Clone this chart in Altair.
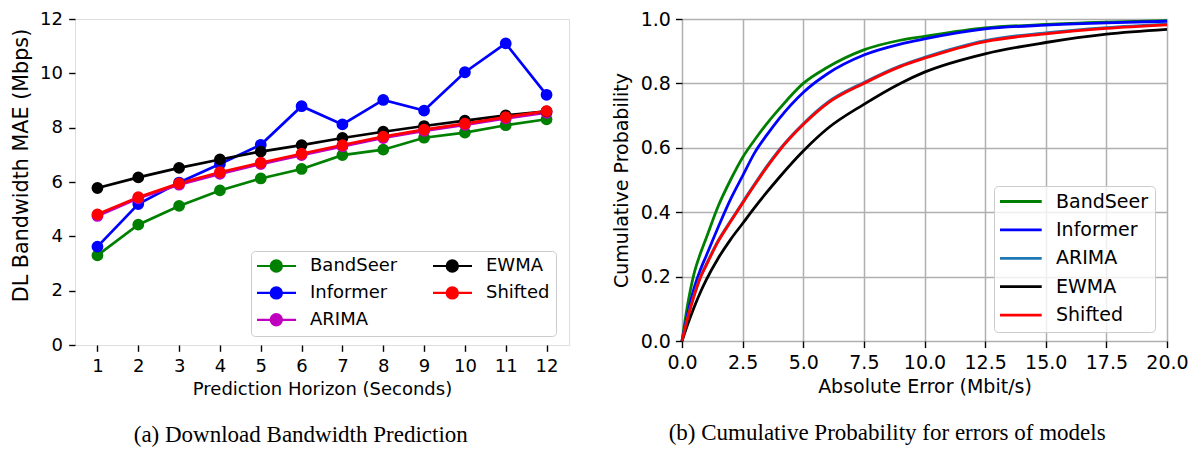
import altair as alt
import pandas as pd

# ---------------- data: panel (a) ----------------
horizon = list(range(1, 13))
models = ["BandSeer", "Informer", "ARIMA", "EWMA", "Shifted"]
mae_bandseer = [3.30, 4.43, 5.12, 5.69, 6.13, 6.48, 6.99, 7.19, 7.63, 7.82, 8.09, 8.31]
mae_informer = [3.62, 5.19, 5.98, 6.66, 7.37, 8.79, 8.12, 9.02, 8.63, 10.04, 11.10, 9.21]
mae_arima = [4.75, 5.40, 5.90, 6.30, 6.66, 6.99, 7.31, 7.62, 7.88, 8.10, 8.34, 8.55]
mae_ewma = [5.78, 6.17, 6.52, 6.83, 7.12, 7.36, 7.62, 7.85, 8.06, 8.26, 8.45, 8.60]
mae_shifted = [4.81, 5.44, 5.95, 6.36, 6.71, 7.04, 7.36, 7.67, 7.93, 8.15, 8.39, 8.61]

# ---------------- data: panel (b) ----------------
err_x = [0, 0.25, 0.5, 0.75, 1, 1.5, 2, 2.5, 3, 3.5, 4, 5, 6, 7.5, 9, 10, 12.5, 15, 17.5, 20]
cdf_bandseer = [0, 0.12, 0.21, 0.27, 0.32, 0.42, 0.50, 0.57, 0.625, 0.675, 0.72, 0.80, 0.85, 0.904, 0.934, 0.946, 0.972, 0.983, 0.990, 0.995]
cdf_informer = [0, 0.09, 0.165, 0.22, 0.265, 0.355, 0.44, 0.513, 0.585, 0.64, 0.69, 0.772, 0.83, 0.888, 0.922, 0.938, 0.969, 0.981, 0.988, 0.993]
cdf_arima = [0, 0.078, 0.143, 0.198, 0.238, 0.313, 0.373, 0.431, 0.488, 0.543, 0.593, 0.675, 0.741, 0.803, 0.855, 0.881, 0.933, 0.957, 0.973, 0.984]
cdf_ewma = [0, 0.055, 0.105, 0.15, 0.19, 0.258, 0.315, 0.365, 0.415, 0.462, 0.507, 0.59, 0.66, 0.735, 0.80, 0.835, 0.892, 0.927, 0.953, 0.968]
cdf_shifted = [0, 0.075, 0.14, 0.195, 0.235, 0.31, 0.37, 0.428, 0.485, 0.54, 0.59, 0.672, 0.738, 0.80, 0.852, 0.878, 0.93, 0.954, 0.971, 0.982]

mae_series = [mae_bandseer, mae_informer, mae_arima, mae_ewma, mae_shifted]
cdf_series = [cdf_bandseer, cdf_informer, cdf_arima, cdf_ewma, cdf_shifted]

left_df = pd.DataFrame(
    [{"horizon": h, "model": m, "mae": v}
     for m, vals in zip(models, mae_series) for h, v in zip(horizon, vals)]
)
right_df = pd.DataFrame(
    [{"err": e, "model": m, "cdf": v}
     for m, vals in zip(models, cdf_series) for e, v in zip(err_x, vals)]
)

FONT = "DejaVu Sans"
SERIF = "Liberation Serif"

left_rng = ["#008000", "#0000ff", "#bf00bf", "#000000", "#ff0000"]
scale_l = alt.Scale(domain=models, range=left_rng)

# line + marker legend glyph (unit = 6.5 px)
sym_l = "M-2.97,0H3.03M-0.86,0A0.86,0.86,0,1,1,0.86,0A0.86,0.86,0,1,1,-0.86,0Z"
leg_l = alt.Legend(
    title=None, orient="none", legendX=176, legendY=232, columns=2,
    columnPadding=30, rowPadding=6.9, padding=6,
    labelFont=FONT, labelFontSize=18, labelColor="black", labelOffset=24.7,
    symbolType=sym_l, symbolSize=169, symbolStrokeWidth=2.2, symbolOpacity=1,
    symbolOffset=10.3,
    strokeColor="#cccccc", fillColor="rgba(255,255,255,0.8)", cornerRadius=4,
)

def axis_common(fs, tick, pad):
    return dict(labelFont=FONT, titleFont=FONT, labelFontSize=fs,
                labelColor="black", titleColor="black", titleFontWeight="normal",
                domain=False, ticks=True, tickColor="black", tickWidth=1.4,
                tickSize=tick, labelPadding=pad, labelFlush=False, labelOverlap=False)

x_l = alt.X("horizon:Q", scale=alt.Scale(domain=[0.45, 12.55], nice=False, zero=False),
            axis=alt.Axis(values=horizon, title="Prediction Horizon (Seconds)", grid=False,
                          titlePadding=5, titleFontSize=18, **axis_common(18, 6.3, 6.3)))
y_l = alt.Y("mae:Q", scale=alt.Scale(domain=[0, 12], nice=False),
            axis=alt.Axis(values=[0, 2, 4, 6, 8, 10, 12], title="DL Bandwidth MAE (Mbps)",
                          grid=False, titlePadding=8, titleFontSize=20.7, titleY=146,
                          **axis_common(18, 6.3, 6.3)))

base_l = alt.Chart(left_df)
lines_l = base_l.mark_line(strokeWidth=2.7, opacity=1).encode(
    x=x_l, y=y_l, stroke=alt.Stroke("model:N", scale=scale_l, legend=leg_l))
points_l = base_l.mark_point(filled=True, size=100, strokeWidth=1.8, opacity=1, shape="circle").encode(
    x=x_l, y=y_l,
    fill=alt.Fill("model:N", scale=scale_l, legend=leg_l),
    stroke=alt.Stroke("model:N", scale=scale_l, legend=leg_l))

left = alt.layer(lines_l, points_l).properties(
    width=494, height=326,
    title=alt.TitleParams("(a) Download Bandwidth Prediction", orient="bottom", anchor="middle",
                          frame="bounds", font=SERIF, fontSize=23, fontWeight="normal",
                          color="black", offset=25, dx=11),
)

# ---------------- panel (b) ----------------
right_rng = ["#008000", "#0000ff", "#1f77b4", "#000000", "#ff0000"]
scale_r = alt.Scale(domain=models, range=right_rng)
leg_r = alt.Legend(
    title=None, orient="none", legendX=312, legendY=167,
    rowPadding=8.4, padding=6,
    labelFont=FONT, labelFontSize=19, labelColor="black", labelOffset=25.65,
    symbolType="M-2.98,0H2.98", symbolSize=196, symbolStrokeWidth=2.8, symbolOffset=11.35,
    strokeColor="#cccccc", fillColor="rgba(255,255,255,0.8)", cornerRadius=4,
)
x_r = alt.X("err:Q", scale=alt.Scale(domain=[0, 20], nice=False),
            axis=alt.Axis(values=[0, 2.5, 5, 7.5, 10, 12.5, 15, 17.5, 20], format=".1f",
                          title="Absolute Error (Mbit/s)", grid=True, gridColor="#b0b0b0",
                          gridWidth=1.5, titlePadding=5, titleFontSize=19,
                          **axis_common(19, 6.6, 6.0)))
y_r = alt.Y("cdf:Q", scale=alt.Scale(domain=[0, 1], nice=False),
            axis=alt.Axis(values=[0, 0.2, 0.4, 0.6, 0.8, 1.0], format=".1f",
                          title="Cumulative Probability", grid=True, gridColor="#b0b0b0",
                          gridWidth=1.5, titlePadding=9, titleFontSize=19,
                          **axis_common(19, 6.6, 5.0)))
right = alt.Chart(right_df).mark_line(strokeWidth=2.8, interpolate="monotone").encode(
    x=x_r, y=y_r, color=alt.Color("model:N", scale=scale_r, legend=leg_r),
).properties(
    width=485, height=322,
    title=alt.TitleParams("(b) Cumulative Probability for errors of models", orient="bottom",
                          anchor="middle", frame="bounds", font=SERIF, fontSize=23,
                          fontWeight="normal", color="black", offset=25, dx=-13),
)

chart = alt.hconcat(left, right, spacing=113, bounds="flush").resolve_scale(
    color="independent", fill="independent", stroke="independent"
).properties(
    padding={"left": 9, "top": 9, "right": 0, "bottom": 0}
).configure_view(stroke="black", strokeWidth=1.4).configure(background="white")

chart.save("out.html", embed_options={"renderer": "svg", "actions": False})
